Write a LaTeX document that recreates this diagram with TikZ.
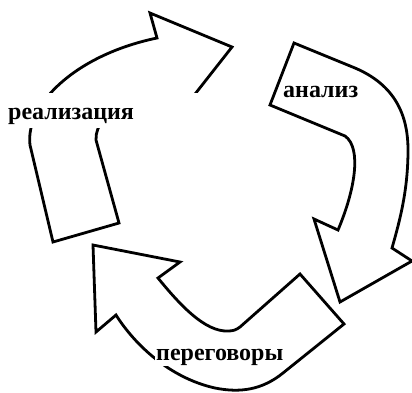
\documentclass[tikz,border=0pt]{standalone}
\usepackage{fontspec}
\setmainfont{Liberation Serif}
\begin{document}
\begin{tikzpicture}[x=1pt,y=-1pt,
  blockarrow/.style={draw=black, line width=2.8pt, fill=white, line join=miter},
  lbl/.style={fill=white, inner sep=1pt, font=\fontsize{24}{26}\selectfont\bfseries}]
\useasboundingbox (0,0) rectangle (412,392);
% arrow 1 (realizatsiya)
\draw[blockarrow] (53,242) -- (30,145) .. controls (25,105) and (75,55) .. (157,38)
  -- (150,13) -- (232,47) -- (188,103) -- (182,95)
  .. controls (140,92) and (95,110) .. (96,140) -- (119,223) -- cycle;
% arrow 2 (analiz)
\draw[blockarrow] (294,43) -- (355,68) .. controls (395,85) and (408,115) .. (408,150)
  .. controls (408,190) and (400,220) .. (392,248) -- (412,261) -- (340,302)
  -- (314,219) -- (338,230) .. controls (355,190) and (362,148) .. (345,136)
  -- (270,105) -- cycle;
% arrow 3 (peregovory)
\draw[blockarrow] (300,274) -- (344,324) -- (283,373)
  .. controls (262,390) and (240,393) .. (215,388)
  .. controls (170,378) and (135,345) .. (116,315)
  -- (96,332) -- (93,245) -- (180,262) -- (158,278)
  .. controls (180,305) and (205,332) .. (228,331)
  .. controls (233,331) and (236,330) .. (240,327) -- cycle;
% labels
\node[lbl, anchor=north west, text height=26pt, text depth=9pt, text width=219pt, inner xsep=8pt, inner ysep=0pt, align=left] (real) at (0,93) {реализация};
\node[lbl, anchor=west] (anal) at (282,92) {анализ};
\node[lbl, anchor=west] (pere) at (155,357) {переговоры};
\end{tikzpicture}
\end{document}
